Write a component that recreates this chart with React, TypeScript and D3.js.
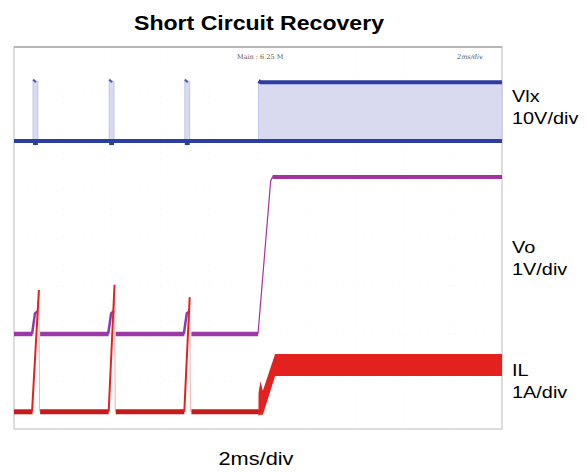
import React from "react";
import * as d3 from "d3";

// ---- data (time in ms, amplitude in scope divisions from bottom) ----
const timeDomain = [0, 20]; // 2 ms/div, 10 divisions
const divDomain = [0, 8];
const timeDivs = d3.range(0, 21, 2);
const ampDivs = d3.range(0, 9, 1);

// Vlx switching node (blue): envelope low / high
const vlxTime = [0, 0.78, 0.78, 0.98, 0.98, 3.9, 3.9, 4.1, 4.1, 7.0, 7.0, 7.2, 7.2, 10.02, 10.02, 20];
const vlxHigh = [6.03, 6.03, 7.3, 7.28, 6.03, 6.03, 7.3, 7.28, 6.03, 6.03, 7.3, 7.28, 6.03, 6.03, 7.27, 7.27];
const vlxLow = 6.03;
const vlxTopTicks = [0.78, 3.9, 7.0];
const vlxTopTime = [10.02, 10.12, 20];
const vlxTopLevel = [7.29, 7.26, 7.26];

// Vo output (purple)
const voLowSegments = [
  [0, 0.76],
  [1.07, 3.88],
  [4.17, 6.98],
  [7.27, 10.0],
];
const voLowLevel = 1.99;
const voBumpTime = [0.74, 0.86, 0.98];
const voBumpLevel = [1.99, 2.42, 2.47];
const voBumpStarts = [0, 3.12, 6.22];
const voRecTime = [10.0, 10.52, 10.6, 20];
const voRecLevel = [1.99, 5.2, 5.28, 5.28];

// IL inductor current (red)
const ilLowLevel = 0.36;
const ilLowSegments = [
  [0, 0.76],
  [1.07, 3.88],
  [4.17, 6.98],
  [7.27, 10.05],
];
const ilRampStart = [0.74, 3.88, 6.98];
const ilRampEnd = [1.02, 4.12, 7.2];
const ilPeak = [2.91, 3.02, 2.76];
const ilBandTime = [10.02, 10.1, 10.2, 10.7, 20];
const ilBandLow = [0.28, 0.3, 0.3, 1.11, 1.11];
const ilBandHigh = [0.75, 1.0, 0.8, 1.57, 1.57];

const labels = [
  { name: "Vlx", scale: "10V/div", level: 6.85 },
  { name: "Vo", scale: "1V/div", level: 3.68 },
  { name: "IL", scale: "1A/div", level: 1.1 },
];

export default function App() {
  const W = 587, H = 473;
  const left = 14, right = 502, top = 47, bottom = 429;
  const x = d3.scaleLinear().domain(timeDomain).range([left, right]);
  const y = d3.scaleLinear().domain(divDomain).range([bottom, top]);

  const vlxArea = d3.area<number>()
    .x((_, i) => x(vlxTime[i]))
    .y0(() => y(vlxLow))
    .y1((_, i) => y(vlxHigh[i]));
  const line = d3.line<[number, number]>().x((d) => x(d[0])).y((d) => y(d[1]));
  const ilArea = d3.area<number>()
    .x((_, i) => x(ilBandTime[i]))
    .y0((_, i) => y(ilBandLow[i]))
    .y1((_, i) => y(ilBandHigh[i]));

  const blue = "#2c3f9e";
  const purple = "#a2349e";
  const red = "#e3221f";
  const darkRed = "#c61b1b";
  const sans = "Liberation Sans, Arial, sans-serif";

  return (
    <svg width={W} height={H} style={{ position: "absolute", left: 0, top: 0, background: "#fff" }}>
      <text x={259} y={30} textAnchor="middle" fontFamily={sans} fontWeight="bold" fontSize={20} fill="#000" textLength={250} lengthAdjust="spacingAndGlyphs">
        Short Circuit Recovery
      </text>
      {/* faint grid */}
      <g stroke="#f5f5f5" strokeWidth={1} strokeDasharray="1 6">
        {timeDivs.slice(1, -1).map((t) => (
          <line key={"t" + t} x1={x(t)} x2={x(t)} y1={top} y2={bottom} />
        ))}
        {ampDivs.slice(1, -1).map((a) => (
          <line key={"a" + a} x1={left} x2={right} y1={y(a)} y2={y(a)} />
        ))}
      </g>
      <rect x={left} y={top} width={right - left} height={bottom - top} fill="none" stroke="#d2d2d2" strokeWidth={1.5} />
      <line x1={left} x2={right} y1={top} y2={top} stroke="#a8a8a8" strokeWidth={1.5} />
      <text x={237} y={59} fontFamily="DejaVu Serif, serif" fontSize={6.5} fill="#555">Main : 6.25 M</text>
      <text x={457} y={59} fontFamily="DejaVu Serif, serif" fontSize={6.5} fill="#555" fontStyle="italic">2ms/div</text>

      {/* Vlx */}
      <path d={vlxArea(vlxTime) || ""} fill="#d9d9f0" stroke="#b9bce4" strokeWidth={0.8} />
      <line x1={x(0)} x2={x(20)} y1={y(vlxLow)} y2={y(vlxLow)} stroke={blue} strokeWidth={4} />
      {vlxTopTicks.map((t) => (
        <line key={t} x1={x(t)} x2={x(t + 0.12)} y1={y(7.32)} y2={y(7.26)} stroke={blue} strokeWidth={2} opacity={0.8} />
      ))}
      {vlxTopTicks.map((t) => (
        <line key={"d" + t} x1={x(t)} x2={x(t + 0.2)} y1={y(vlxLow) + 2} y2={y(vlxLow) + 2} stroke={blue} strokeWidth={4} />
      ))}
      <path d={line(vlxTopTime.map((t, i) => [t, vlxTopLevel[i]]) as any) || ""} stroke={blue} strokeWidth={4} fill="none" />

      {/* Vo */}
      {voLowSegments.map((s, i) => (
        <line key={i} x1={x(s[0])} x2={x(s[1])} y1={y(voLowLevel)} y2={y(voLowLevel)} stroke="#9b3aa6" strokeWidth={4.5} />
      ))}
      {voBumpStarts.map((o, i) => (
        <path key={i} d={line(voBumpTime.map((t, j) => [t + o, voBumpLevel[j]]) as any) || ""} stroke="#8e3aae" strokeWidth={2.5} fill="none" />
      ))}
      <path d={line(voRecTime.map((t, i) => [t, voRecLevel[i]]) as any) || ""} stroke={purple} strokeWidth={1.2} fill="none" />
      <path d={line(voRecTime.slice(2).map((t, i) => [t, voRecLevel[i + 2]]) as any) || ""} stroke={purple} strokeWidth={4} fill="none" />

      {/* IL */}
      {ilLowSegments.map((s, i) => (
        <line key={i} x1={x(s[0])} x2={x(s[1])} y1={y(ilLowLevel)} y2={y(ilLowLevel)} stroke={darkRed} strokeWidth={5} />
      ))}
      {ilRampStart.map((t, i) => (
        <g key={i}>
          <line x1={x(t)} x2={x(ilRampEnd[i])} y1={y(ilLowLevel)} y2={y(ilPeak[i])} stroke={red} strokeWidth={2} />
          <line x1={x(ilRampEnd[i])} x2={x(ilRampEnd[i] + 0.03)} y1={y(ilPeak[i])} y2={y(ilLowLevel)} stroke={red} strokeWidth={0.6} opacity={0.6} />
        </g>
      ))}
      <path d={ilArea(ilBandTime) || ""} fill={red} />

      {/* labels */}
      {labels.map((l) => (
        <g key={l.name} fontFamily={sans} fontSize={17} fill="#000">
          <text transform={`translate(512,${y(l.level)}) scale(1.17,1)`}>{l.name}</text>
          <text transform={`translate(512,${y(l.level) + 22}) scale(1.17,1)`}>{l.scale}</text>
        </g>
      ))}
      <text x={256} y={465} textAnchor="middle" fontFamily={sans} fontSize={18} fill="#000" textLength={75} lengthAdjust="spacingAndGlyphs">2ms/div</text>
    </svg>
  );
}
